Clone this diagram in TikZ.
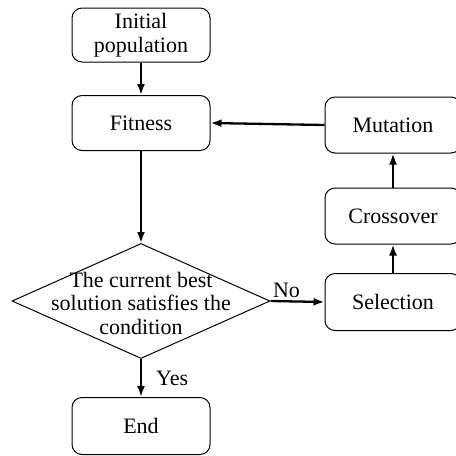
\documentclass[tikz,border=0pt]{standalone}
\usepackage{fontspec}
\setmainfont{Liberation Serif}
\usetikzlibrary{arrows.meta,shapes.geometric}
\begin{document}
\begin{tikzpicture}[x=1pt,y=-1pt,
  every node/.style={font=\fontsize{22}{23.5}\selectfont},
  stepbox/.style={draw,line width=1pt,rounded corners=10pt,inner sep=0pt,align=center},
  decision/.style={draw,line width=1pt,diamond,inner sep=0pt},
  flow/.style={line width=2.3pt,-{Latex[length=11pt,width=8pt]}},
  lbl/.style={inner sep=1pt}]
  \useasboundingbox (0,0) rectangle (456,456);
  \clip (0,0) rectangle (456,456);

  % left column
  \node[stepbox,minimum width=138pt,minimum height=54pt] (init) at (141,35) {Initial\\population};
  \node[stepbox,minimum width=138pt,minimum height=55pt] (fit) at (141,123) {Fitness};
  \node[decision,minimum width=258pt,minimum height=115pt] (cond) at (141,301) {};
  \node[align=center] (condtext) at (141,303) {The current best\\solution satisfies the\\condition};
  \node[stepbox,minimum width=138pt,minimum height=57pt] (end) at (141,426) {End};

  % right column
  \node[stepbox,minimum width=136pt,minimum height=56pt] (mut) at (393,125) {Mutation};
  \node[stepbox,minimum width=136pt,minimum height=56pt] (cro) at (393,216) {Crossover};
  \node[stepbox,minimum width=136pt,minimum height=57pt] (sel) at (393,302) {Selection};

  % connectors
  \draw[flow] (init) -- (fit);
  \draw[flow] (fit) -- (cond.north);
  \draw[flow] (cond.south) -- (end) node[lbl,midway,right=13pt] {Yes};
  \draw[flow] (cond.east) -- (sel.west) node[lbl,midway,above=2pt,xshift=-11pt] {No};
  \draw[flow] (sel) -- (cro);
  \draw[flow] (cro) -- (mut);
  \draw[flow] (mut.west) -- (fit.east);
\end{tikzpicture}
\end{document}
